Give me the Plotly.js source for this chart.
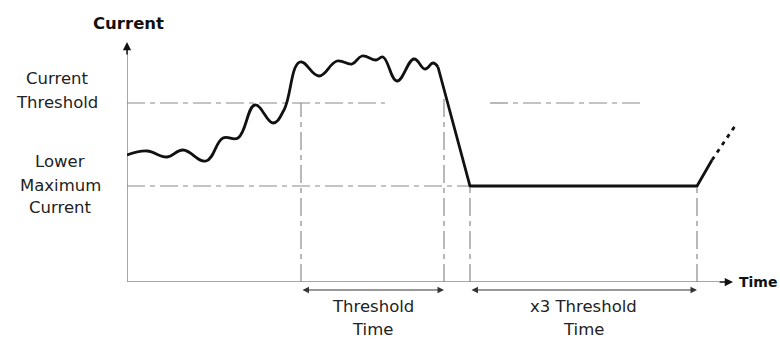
<!DOCTYPE html>
<html><head><meta charset="utf-8">
<script src="https://cdn.plot.ly/plotly-3.0.1.min.js"></script>
<style>html,body{margin:0;padding:0;background:#fff}#chart{width:780px;height:340px}</style>
</head><body><div id="chart"></div>
<script>
// Schematic values (arbitrary units)
const waveTime    = [0, 20, 40, 56, 79, 96, 111, 128, 146, 157, 173, 192, 210, 225, 235, 249, 256, 270, 287, 298, 306, 311];
const waveCurrent = [127, 131, 125, 132, 121, 144, 144, 177, 159, 172, 220, 206, 221, 218, 226, 222, 225, 201, 223, 213, 219, 215];
const dropTime    = [311, 343, 570, 585];
const dropCurrent = [215, 96, 96, 122];
const projTime    = [585, 610];
const projCurrent = [122, 159];
const currentThreshold = 179;
const lowerMaxCurrent  = 96;
const thresholdSegStart = [0, 363];
const thresholdSegEnd   = [258, 518];
const lowerSegStart = [0];
const lowerSegEnd   = [343];
const guideTimes = [174, 317, 343, 570];
const guideTops  = [179, 187, 96, 96];
const spanStart  = [174, 343];
const spanEnd    = [317, 570];
const spanLabel1 = ['Threshold', 'x3 Threshold'];
const spanLabel2 = ['Time', 'Time'];
const yLabelsThreshold = ['Current', 'Threshold'];
const yLabelsLower = ['Lower', 'Maximum', 'Current'];

const X_MAX = 620, Y_MAX = 240;
const FONT = 'DejaVu Sans, sans-serif';
const GUIDE = {color: '#8a8a8a', width: 1.2, dash: '18px,5px,5px,5px'};

const traces = [];
thresholdSegStart.forEach((s, i) => traces.push({x: [s, thresholdSegEnd[i]], y: [currentThreshold, currentThreshold], mode: 'lines', line: GUIDE, hoverinfo: 'skip'}));
lowerSegStart.forEach((s, i) => traces.push({x: [s, lowerSegEnd[i]], y: [lowerMaxCurrent, lowerMaxCurrent], mode: 'lines', line: GUIDE, hoverinfo: 'skip'}));
guideTimes.forEach((t, i) => traces.push({x: [t, t], y: [0, guideTops[i]], mode: 'lines', line: GUIDE, hoverinfo: 'skip'}));
// axes
traces.push({x: [0, 592], y: [0, 0], mode: 'lines', line: {color: '#8a8a8a', width: 1.5}, hoverinfo: 'skip'});
traces.push({x: [0, 0], y: [0, 232], mode: 'lines', line: {color: '#8a8a8a', width: 1.5}, hoverinfo: 'skip'});
// current waveform
traces.push({x: waveTime, y: waveCurrent, mode: 'lines', line: {color: '#111', width: 2.8, shape: 'spline', smoothing: 1.2}, hoverinfo: 'skip'});
traces.push({x: dropTime, y: dropCurrent, mode: 'lines', line: {color: '#111', width: 2.8}, hoverinfo: 'skip'});
traces.push({x: projTime, y: projCurrent, mode: 'lines', line: {color: '#111', width: 2.8, dash: '4px,5px'}, hoverinfo: 'skip'});

const ann = [];
const lblFont = {family: FONT, size: 16.5, color: '#222'};
ann.push({x: 0, y: Y_MAX, ax: 0, ay: 226, xref: 'x', yref: 'y', axref: 'x', ayref: 'y', text: '', showarrow: true, arrowhead: 2, arrowsize: 1.1, arrowwidth: 1.5, arrowcolor: '#111', standoff: 0});
ann.push({x: 606, y: 0, ax: 591, ay: 0, xref: 'x', yref: 'y', axref: 'x', ayref: 'y', text: '', showarrow: true, arrowhead: 2, arrowsize: 1.1, arrowwidth: 1.5, arrowcolor: '#111', standoff: 0});
ann.push({x: 1, y: 259 / Y_MAX, xref: 'x', yref: 'paper', text: 'Current', showarrow: false, xanchor: 'center', yanchor: 'middle', font: {family: FONT, size: 16.5, color: '#111', weight: 'bold'}});
ann.push({x: 611, y: 0, xref: 'x', yref: 'paper', text: 'Time', showarrow: false, xanchor: 'left', yanchor: 'middle', xshift: -1, font: {family: FONT, size: 14, color: '#111', weight: 'bold'}});
yLabelsThreshold.forEach((t, i) => ann.push({x: 57, y: [204, 180][i] / Y_MAX, xref: 'pixel', yref: 'paper', text: t, showarrow: false}));
yLabelsLower.forEach((t, i) => ann.push({x: 60, y: [121, 97, 75][i] / Y_MAX, xref: 'pixel', yref: 'paper', text: t, showarrow: false}));
spanStart.forEach((s, i) => {
  ann.push({x: spanEnd[i], y: -8 / Y_MAX, ax: s, ay: 0, xref: 'x', yref: 'paper', axref: 'x', ayref: 'pixel', text: '', showarrow: true, arrowside: 'end+start', arrowhead: 2, arrowsize: 1.3, arrowwidth: 1, arrowcolor: '#333', standoff: 0, startstandoff: 0});
  const c = (s + spanEnd[i]) / 2;
  ann.push({x: c, y: -24 / Y_MAX, xref: 'x', yref: 'paper', text: spanLabel1[i], showarrow: false, font: lblFont, yanchor: 'middle'});
  ann.push({x: c, y: -47 / Y_MAX, xref: 'x', yref: 'paper', text: spanLabel2[i], showarrow: false, font: lblFont, yanchor: 'middle'});
});
ann.forEach(a => { if (a.xref === 'pixel') { a.x = (a.x - 127) / (780 - 127 - 33); a.xref = 'paper'; a.font = lblFont; a.xanchor = 'center'; a.yanchor = 'middle'; } });

const layout = {
  width: 780, height: 340,
  margin: {l: 127, r: 33, t: 42, b: 58},
  paper_bgcolor: '#fff', plot_bgcolor: '#fff',
  showlegend: false,
  xaxis: {range: [0, X_MAX], visible: false, fixedrange: true},
  yaxis: {range: [0, Y_MAX], visible: false, fixedrange: true},
  annotations: ann
};
Plotly.newPlot('chart', traces, layout, {displayModeBar: false, staticPlot: true});
</script></body></html>
